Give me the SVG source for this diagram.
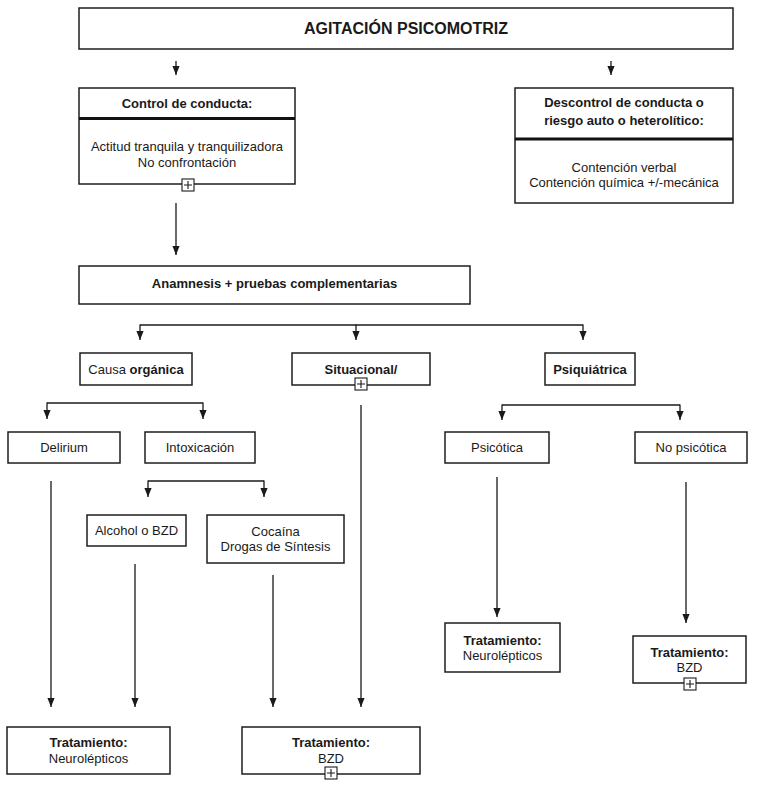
<svg xmlns="http://www.w3.org/2000/svg" width="758" height="787" viewBox="0 0 758 787">
<style>
  .box { fill: #ffffff; stroke: #1e1e1e; stroke-width: 1.5; }
  .div { stroke: #111; stroke-width: 3; }
  .con { stroke: #1a1a1a; stroke-width: 1.3; fill: none; }
  .arr { stroke: #1a1a1a; stroke-width: 1.3; fill: none; marker-end: url(#ah); }
  text { font-family: "Liberation Sans", Arial, sans-serif; font-size: 13px; fill: #1a1a1a; text-anchor: middle; }
  .b { font-weight: bold; }
  .title { font-size: 16px; font-weight: bold; }
  .plus rect { fill: #fff; stroke: #1a1a1a; stroke-width: 1.1; }
  .plus path { stroke: #1a1a1a; stroke-width: 1.1; fill: none; }
</style>
<defs>
  <marker id="ah" viewBox="0 0 10 8" refX="10" refY="4" markerWidth="9" markerHeight="8" markerUnits="userSpaceOnUse" orient="auto">
    <path d="M0,0 L10,4 L0,8 z" fill="#1a1a1a"/>
  </marker>
  <g id="plusIcon" class="plus">
    <rect x="-6" y="-6" width="12" height="12"/>
    <path d="M-4,0 H4 M0,-4 V4"/>
  </g>
</defs>

<g id="connectors">
  <line class="arr" x1="176" y1="61" x2="176" y2="75"/>
  <line class="arr" x1="611" y1="61" x2="611" y2="75"/>
  <line class="arr" x1="176" y1="203" x2="176" y2="255"/>
  <line class="con" x1="140" y1="325" x2="583" y2="325"/>
  <line class="arr" x1="140" y1="324.5" x2="140" y2="340"/>
  <line class="arr" x1="356" y1="324.5" x2="356" y2="340"/>
  <line class="arr" x1="583" y1="324.5" x2="583" y2="340"/>
  <line class="con" x1="47" y1="403" x2="203" y2="403"/>
  <line class="arr" x1="47" y1="402.5" x2="47" y2="419"/>
  <line class="arr" x1="203" y1="402.5" x2="203" y2="419"/>
  <line class="con" x1="502" y1="405" x2="680" y2="405"/>
  <line class="arr" x1="502" y1="404.5" x2="502" y2="420"/>
  <line class="arr" x1="680" y1="404.5" x2="680" y2="420"/>
  <line class="con" x1="148" y1="481" x2="264" y2="481"/>
  <line class="arr" x1="148" y1="480.5" x2="148" y2="497"/>
  <line class="arr" x1="264" y1="480.5" x2="264" y2="497"/>
  <line class="arr" x1="51" y1="481" x2="51" y2="707"/>
  <line class="arr" x1="135" y1="564" x2="135" y2="707"/>
  <line class="arr" x1="273" y1="575" x2="273" y2="707"/>
  <line class="arr" x1="361" y1="405" x2="361" y2="707"/>
  <line class="arr" x1="497" y1="477" x2="497" y2="617"/>
  <line class="arr" x1="686" y1="482" x2="686" y2="623"/>
</g>

<g id="n-agitacion">
  <rect class="box" x="79" y="8" width="654" height="41"/>
  <text class="title" x="406" y="34">AGITACIÓN PSICOMOTRIZ</text>
</g>

<g id="n-control">
  <rect class="box" x="79" y="88" width="216" height="96"/>
  <line class="div" x1="79" y1="118.5" x2="295" y2="118.5"/>
  <text class="b" x="187" y="108">Control de conducta:</text>
  <text x="187" y="151">Actitud tranquila y tranquilizadora</text>
  <text x="187" y="167">No confrontación</text>
  <use href="#plusIcon" x="188" y="185"/>
</g>

<g id="n-descontrol">
  <rect class="box" x="515" y="88" width="218" height="115"/>
  <line class="div" x1="515" y1="139" x2="733" y2="139"/>
  <text class="b" x="624" y="107">Descontrol de conducta o</text>
  <text class="b" x="624" y="125">riesgo auto o heterolítico:</text>
  <text x="624" y="172">Contención verbal</text>
  <text x="624" y="187">Contención química +/-mecánica</text>
</g>

<g id="n-anamnesis">
  <rect class="box" x="79" y="266" width="391" height="38"/>
  <text class="b" x="274.5" y="288">Anamnesis + pruebas complementarias</text>
</g>

<g id="n-organica">
  <rect class="box" x="80" y="353" width="112" height="32"/>
  <text x="136" y="373.5">Causa <tspan class="b">orgánica</tspan></text>
</g>

<g id="n-situacional">
  <rect class="box" x="292" y="353" width="138" height="32"/>
  <text class="b" x="361" y="373.5">Situacional/</text>
  <use href="#plusIcon" x="361" y="384"/>
</g>

<g id="n-psiquiatrica">
  <rect class="box" x="545" y="353" width="90" height="32"/>
  <text class="b" x="590" y="373.5">Psiquiátrica</text>
</g>

<g id="n-delirium">
  <rect class="box" x="8" y="432" width="112" height="31"/>
  <text x="64" y="452">Delirium</text>
</g>

<g id="n-intoxicacion">
  <rect class="box" x="145" y="432" width="110" height="31"/>
  <text x="200" y="452">Intoxicación</text>
</g>

<g id="n-psicotica">
  <rect class="box" x="445" y="432" width="104" height="31"/>
  <text x="497" y="452">Psicótica</text>
</g>

<g id="n-nopsicotica">
  <rect class="box" x="635" y="432" width="112" height="31"/>
  <text x="691" y="452">No psicótica</text>
</g>

<g id="n-alcohol">
  <rect class="box" x="87" y="515" width="99" height="31"/>
  <text x="136.5" y="535">Alcohol o BZD</text>
</g>

<g id="n-cocaina">
  <rect class="box" x="207" y="515" width="137" height="48"/>
  <text x="275.5" y="535.5">Cocaína</text>
  <text x="275.5" y="551">Drogas de Síntesis</text>
</g>

<g id="n-trat-neuro-1">
  <rect class="box" x="7" y="727" width="163" height="47"/>
  <text class="b" x="88.5" y="747">Tratamiento:</text>
  <text x="88.5" y="763">Neurolépticos</text>
</g>

<g id="n-trat-bzd-1">
  <rect class="box" x="242" y="727" width="178" height="47"/>
  <text class="b" x="331" y="747">Tratamiento:</text>
  <text x="331" y="763">BZD</text>
  <use href="#plusIcon" x="331" y="773"/>
</g>

<g id="n-trat-neuro-2">
  <rect class="box" x="445" y="623" width="115" height="49"/>
  <text class="b" x="502.5" y="644.5">Tratamiento:</text>
  <text x="502.5" y="660">Neurolépticos</text>
</g>

<g id="n-trat-bzd-2">
  <rect class="box" x="633" y="636" width="113" height="47"/>
  <text class="b" x="689.5" y="657">Tratamiento:</text>
  <text x="689.5" y="672">BZD</text>
  <use href="#plusIcon" x="690" y="684"/>
</g>
</svg>
